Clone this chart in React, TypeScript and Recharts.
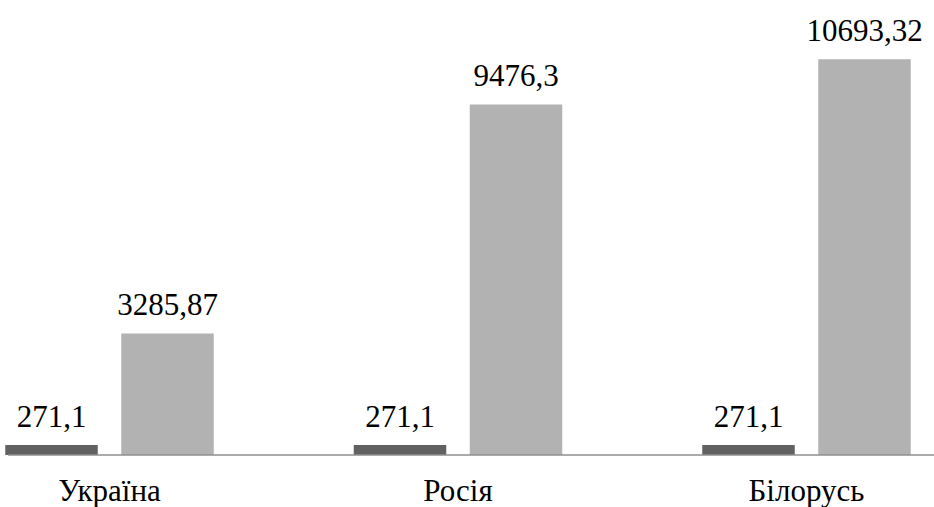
import { BarChart, Bar, XAxis, YAxis, LabelList } from 'recharts';

const countries = ['Україна', 'Росія', 'Білорусь'];
const baseValues = [271.1, 271.1, 271.1];
const compareValues = [3285.87, 9476.3, 10693.32];

const data = countries.map((country, i) => ({
  country,
  base: baseValues[i],
  compare: compareValues[i],
}));

const FONT = 'Times New Roman';
const FONT_SIZE = 31;

function fmt(v: unknown) {
  return String(v).replace('.', ',');
}

function CountryTick(props: any) {
  const { x, y, payload } = props;
  return (
    <text x={x} y={y} dy={22} textAnchor="middle" fontFamily={FONT} fontSize={FONT_SIZE} fill="#000">
      {payload.value}
    </text>
  );
}

function ValueLabel(props: any) {
  const { x, y, width, value } = props;
  return (
    <text
      x={Number(x) + Number(width) / 2}
      y={Number(y) - 18}
      textAnchor="middle"
      fontFamily={FONT}
      fontSize={FONT_SIZE}
      fill="#000"
    >
      {fmt(value)}
    </text>
  );
}

export default function App() {
  return (
    <div
      style={{
        position: 'absolute',
        left: 0,
        top: 0,
        width: 934,
        height: 507,
        overflow: 'hidden',
        background: '#fff',
      }}
    >
      <BarChart
        width={934}
        height={507}
        data={data}
        margin={{ top: 11, right: 0, bottom: 0, left: 8 }}
        barSize={92.5}
        barGap={23.5}
      >
        <XAxis
          dataKey="country"
          height={52}
          padding={{ left: -72.75, right: -46.75 }}
          axisLine={{ stroke: '#8f8f8f', strokeWidth: 1.5 }}
          tickLine={false}
          tickSize={0}
          tickMargin={24}
          tick={<CountryTick />}
          interval={0}
        />
        <YAxis hide domain={[0, 12000]} />
        <Bar dataKey="base" fill="#616161" isAnimationActive={false}>
          <LabelList dataKey="base" content={<ValueLabel />} />
        </Bar>
        <Bar dataKey="compare" fill="#b2b2b2" isAnimationActive={false}>
          <LabelList dataKey="compare" content={<ValueLabel />} />
        </Bar>
      </BarChart>
    </div>
  );
}
